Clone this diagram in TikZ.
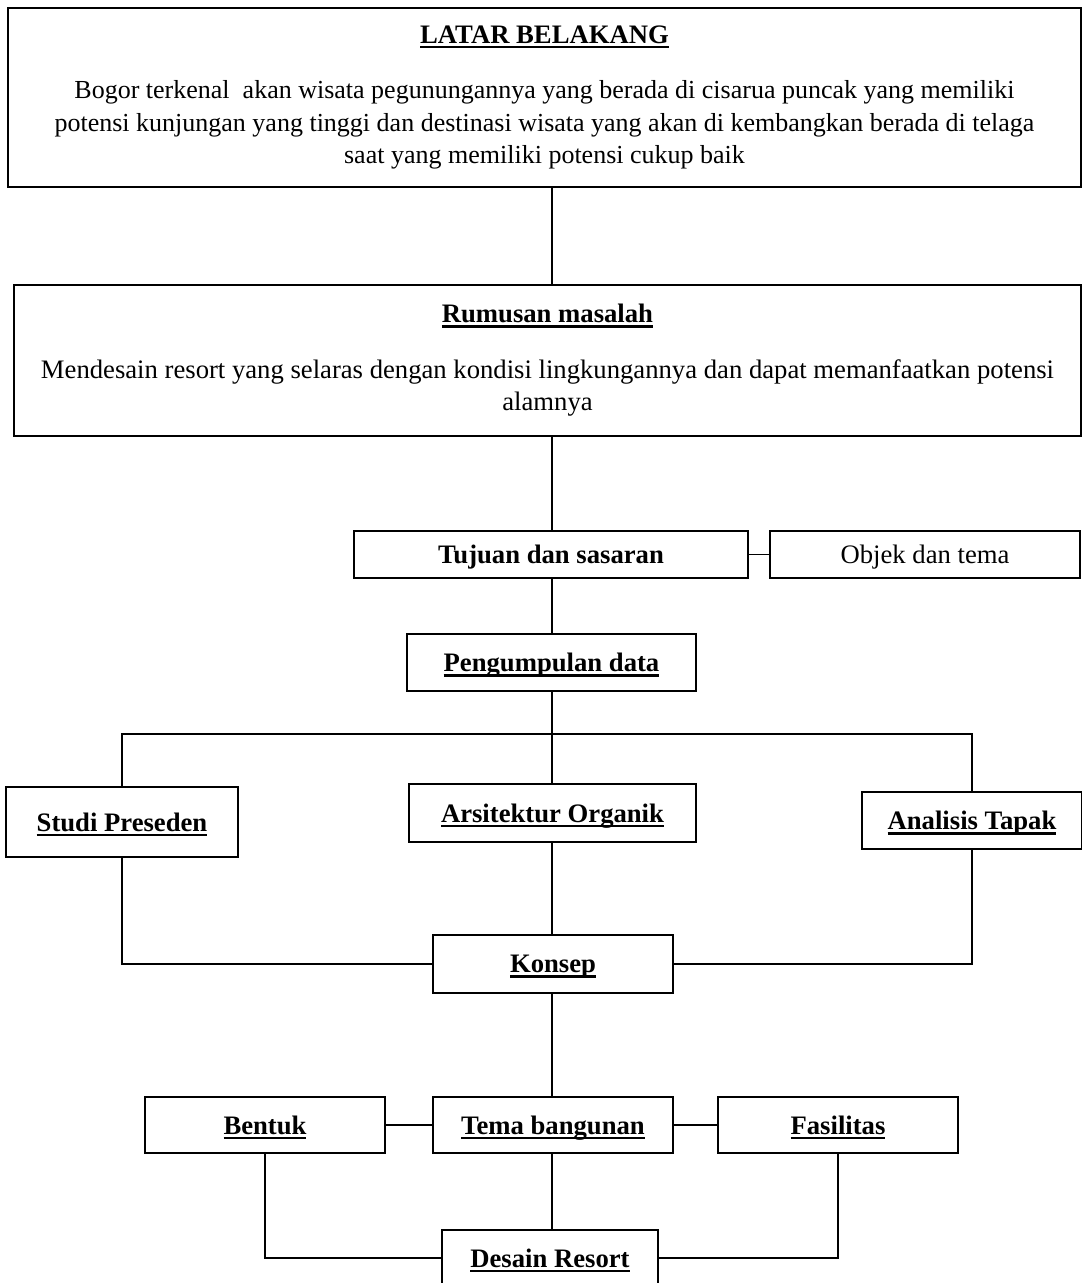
\documentclass[tikz,border=0pt]{standalone}
\usepackage{fontspec}
\setmainfont{Liberation Serif}
\usetikzlibrary{positioning}
\newcommand{\undl}[1]{\setbox0=\hbox{#1}\rlap{\rule[-3.6pt]{\wd0}{1.8pt}}\box0}

\begin{document}
\begin{tikzpicture}[x=0.75pt,y=-0.75pt,
  box/.style={draw, line width=2pt, inner sep=0pt, align=center,
    font=\fontsize{20}{24.5}\selectfont},
  one/.style={text depth=0pt},
  wh/.style 2 args={minimum width=#1*0.75pt, minimum height=#2*0.75pt},
  link/.style={line width=1.3pt}]
  \useasboundingbox (0,0) rectangle (1082,1283);

  % upper boxes
  \node[box, font=\fontsize{19.5}{24.5}\selectfont, wh={1073}{179}] (latar) at (544.5,97.5)
    {\undl{\fontsize{20}{24.5}\selectfont\textbf{LATAR BELAKANG}}\\[17pt]
     Bogor terkenal\ \ akan wisata pegunungannya yang berada di cisarua puncak yang memiliki\\
     potensi kunjungan yang tinggi dan destinasi wisata yang akan di kembangkan berada di telaga\\
     saat yang memiliki potensi cukup baik};
  \node[box, wh={1067}{151}] (rumusan) at (547.5,360.5)
    {\undl{\textbf{Rumusan masalah}}\\[17pt]
     Mendesain resort yang selaras dengan kondisi lingkungannya dan dapat memanfaatkan potensi\\
     alamnya};
  \node[box, one, wh={394}{47}] (tujuan) at (551,554.5) {\textbf{Tujuan dan sasaran}};
  \node[box, one, wh={310}{47}] (objek) at (925,554.5) {Objek dan tema};
  \node[box, one, wh={289}{57}] (data) at (551.5,662.5) {\undl{\textbf{Pengumpulan data}}};

  % middle row
  \node[box, one, wh={232}{70}] (studi) at (122,822) {\undl{\textbf{Studi Preseden}}};
  \node[box, one, wh={287}{58}] (organik) at (552.5,813) {\undl{\textbf{Arsitektur Organik}}};
  \node[box, one, wh={220}{57}] (tapak) at (972,820.5) {\undl{\textbf{Analisis Tapak}}};
  \node[box, one, wh={240}{58}] (konsep) at (553,964) {\undl{\textbf{Konsep}}};

  % lower row
  \node[box, one, wh={240}{56}] (bentuk) at (265,1125) {\undl{\textbf{Bentuk}}};
  \node[box, one, wh={240}{56}] (tema) at (553,1125) {\undl{\textbf{Tema bangunan}}};
  \node[box, one, wh={240}{56}] (fasilitas) at (838,1125) {\undl{\textbf{Fasilitas}}};
  \node[box, one, wh={216}{56}] (desain) at (550,1258) {\undl{\textbf{Desain Resort}}};

  \coordinate (bar) at (552,734);

  % connectors
  \draw[link] (latar.south -| bar) -- (rumusan.north -| bar);
  \draw[link] (rumusan.south -| bar) -- (tujuan.north -| bar);
  \draw[link] (tujuan.east) -- (objek.west);
  \draw[link] (tujuan.south -| bar) -- (data.north -| bar);
  \draw[link] (data.south -| bar) -- (organik.north -| bar);
  \draw[link] (studi.north) |- (bar) -| (tapak.north);
  \draw[link] (studi.south) |- (konsep.west);
  \draw[link] (tapak.south) |- (konsep.east);
  \draw[link] (organik.south -| bar) -- (konsep.north -| bar);
  \draw[link] (konsep.south -| bar) -- (tema.north -| bar);
  \draw[link] (bentuk.east) -- (tema.west);
  \draw[link] (tema.east) -- (fasilitas.west);
  \draw[link] (bentuk.south) |- (desain.west);
  \draw[link] (fasilitas.south) |- (desain.east);
  \draw[link] (tema.south -| bar) -- (desain.north -| bar);
\end{tikzpicture}
\end{document}
